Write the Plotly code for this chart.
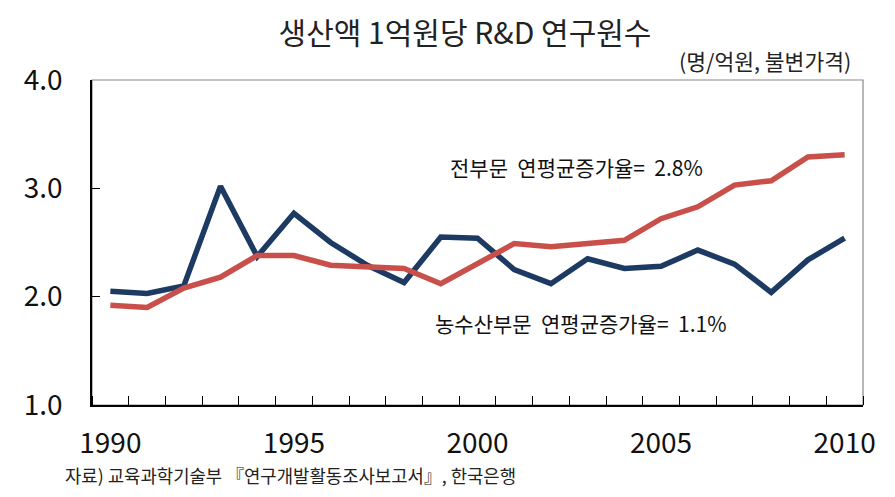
import plotly.graph_objects as go

years = list(range(1990, 2011))
agri = [2.05, 2.03, 2.10, 3.02, 2.37, 2.77, 2.50, 2.29, 2.13, 2.55, 2.54,
        2.25, 2.12, 2.35, 2.26, 2.28, 2.43, 2.30, 2.04, 2.34, 2.54]
total = [1.92, 1.90, 2.08, 2.18, 2.38, 2.38, 2.29, 2.27, 2.26, 2.12, 2.30,
         2.49, 2.46, 2.49, 2.52, 2.72, 2.83, 3.03, 3.07, 3.29, 3.31]
x_ticks = [1990, 1995, 2000, 2005, 2010]
y_ticks = [1.0, 2.0, 3.0, 4.0]

FONT = "Noto Sans CJK KR"
SP = "\u00a0"
OFF = 8  # page body margin offset

fig = go.Figure()
fig.add_trace(go.Scatter(x=years, y=agri, mode="lines", name="농수산부문",
                         line=dict(color="#1d3a63", width=5.5)))
fig.add_trace(go.Scatter(x=years, y=total, mode="lines", name="전부문",
                         line=dict(color="#c9504a", width=5.5)))

fig.update_layout(
    width=895, height=497,
    margin=dict(l=92 - OFF, r=895 - (863 - OFF), t=80 - OFF, b=497 - (405.5 - OFF)),
    paper_bgcolor="white", plot_bgcolor="white",
    showlegend=False,
    font=dict(family=FONT, color="#111"),
    title=dict(text="생산액 1억원당 R&D 연구원수", x=(465 - OFF) / 895, xanchor="center",
               y=1 - 25 / 497, yanchor="middle", font=dict(size=30, color="#222")),
    xaxis=dict(range=[1989.5, 2010.5], tickvals=x_ticks,
               ticktext=[str(v) for v in x_ticks], ticks="",
               showgrid=False, zeroline=False, automargin=False,
               showline=True, linecolor="black", linewidth=1.5,
               ticklabelstandoff=13,
               tickfont=dict(size=28, color="#111"),
               minor=dict(tick0=1989.5, dtick=1, ticks="inside", ticklen=9,
                          tickcolor="black", tickwidth=1, showgrid=False)),
    yaxis=dict(range=[1.0, 4.0], tickvals=y_ticks,
               ticktext=["%.1f" % v for v in y_ticks], ticks="inside",
               ticklen=8, tickcolor="black",
               showgrid=False, zeroline=False, automargin=False,
               showline=True, linecolor="black", linewidth=1.5,
               ticklabelstandoff=22,
               tickfont=dict(size=28, color="#111")),
    shapes=[dict(type="rect", xref="paper", yref="paper", x0=0, x1=1, y0=0, y1=1,
                 line=dict(color="#888", width=1.2), layer="below")],
    annotations=[
        dict(text="(명/억원, 불변가격)", xref="paper", yref="paper", x=0.987, y=1.06,
             xanchor="right", yanchor="middle", showarrow=False,
             font=dict(size=21.5, color="#222")),
        dict(text="전부문" + SP * 2 + "연평균증가율=" + SP * 2 + "2.8%", xref="x", yref="y",
             x=2002.69, y=3.195, xanchor="center", yanchor="middle", showarrow=False,
             font=dict(size=21, color="#111")),
        dict(text="농수산부문" + SP * 2 + "연평균증가율=" + SP * 2 + "1.1%", xref="x", yref="y",
             x=2002.81, y=1.76, xanchor="center", yanchor="middle", showarrow=False,
             font=dict(size=21, color="#111")),
        dict(text="자료) 교육과학기술부 『연구개발활동조사보고서』, 한국은행", xref="paper", yref="paper",
             x=-0.0376, y=-0.216, xanchor="left", yanchor="middle", showarrow=False,
             font=dict(size=17.8, color="#222")),
    ],
)

fig.write_html("out.html")
